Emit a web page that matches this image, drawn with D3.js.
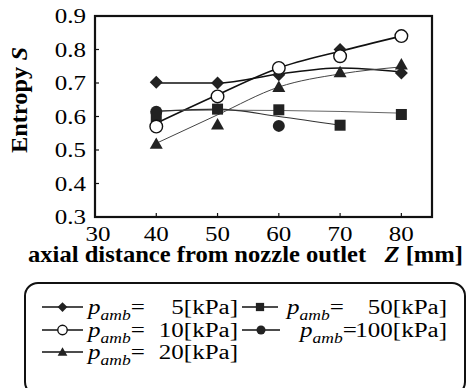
<!DOCTYPE html>
<html>
<head>
<meta charset="utf-8">
<script src="https://cdn.jsdelivr.net/npm/d3@7"></script>
</head>
<body style="margin:0">
<div id="chart"></div>
<script>
// Z positions [mm]
const zAll = [40, 50, 60, 70, 80];

// measured entropy (markers)
const s5 = [0.702, 0.700, 0.725, 0.800, 0.730];
const s10 = [0.570, 0.660, 0.745, 0.780, 0.840];
const s20 = [0.518, 0.576, 0.688, 0.732, 0.755];
const s50 = [0.600, 0.622, 0.620, 0.574, 0.606];
const z100 = [40, 60];
const s100 = [0.614, 0.572];

// fitted curves as drawn in the figure
const fit5 = [0.700, 0.700, 0.727, 0.745, 0.733];
const fit10 = [0.580, 0.665, 0.745, 0.795, 0.840];
const fit20 = [0.520, 0.605, 0.688, 0.727, 0.748];
const fit50 = [0.617, 0.619, 0.618, 0.615, 0.610];
const zFit100 = [40, 50, 60, 70];
const fit100 = [0.615, 0.622, 0.600, 0.574];

const yTicks = [0.3, 0.4, 0.5, 0.6, 0.7, 0.8, 0.9];
const xTicks = [30, 40, 50, 60, 70, 80];

const W = 474, H = 388;
const plot = { left: 95, right: 432, top: 16, bottom: 217 };
const FONT = '"Liberation Serif", monospace';
const STRETCH = 1.25; // the scanned figure is a bit wider than tall

const svg = d3.select('#chart').append('svg')
    .attr('width', W)
    .attr('height', H);

const x = d3.scaleLinear().domain([30, 85]).range([plot.left, plot.right]);
const y = d3.scaleLinear().domain([0.3, 0.9]).range([plot.bottom, plot.top]);

const series = [
    { key: '5', z: zAll, s: s5, fz: zAll, f: fit5, shape: 'diamond', lw: 1.6, lc: '#111' },
    { key: '10', z: zAll, s: s10, fz: zAll, f: fit10, shape: 'open', lw: 1.6, lc: '#111' },
    { key: '20', z: zAll, s: s20, fz: zAll, f: fit20, shape: 'triangle', lw: 1.0, lc: '#444' },
    { key: '50', z: zAll, s: s50, fz: zAll, f: fit50, shape: 'square', lw: 1.0, lc: '#666' },
    { key: '100', z: z100, s: s100, fz: zFit100, f: fit100, shape: 'circle', lw: 1.1, lc: '#333' }
];

function label(px, py, size, weight) {
    return svg.append('text')
        .attr('x', px).attr('y', py)
        .attr('font-family', FONT)
        .attr('font-weight', weight || 'normal')
        .attr('font-style', 'normal')
        .attr('font-size', size);
}

// widen a text horizontally, keeping its anchor
function widen(t) {
    const w = t.node().getComputedTextLength();
    t.attr('textLength', w * STRETCH).attr('lengthAdjust', 'spacingAndGlyphs');
    return t;
}

// inward ticks from the scales
svg.append('g').selectAll('line')
    .data(xTicks.slice(1))
    .enter().append('line')
    .attr('x1', d => x(d)).attr('x2', d => x(d))
    .attr('y1', plot.bottom).attr('y2', plot.bottom - 4)
    .attr('stroke', '#111').attr('stroke-width', 1.2);

svg.append('g').selectAll('line')
    .data(yTicks.slice(1, -1))
    .enter().append('line')
    .attr('x1', plot.left).attr('x2', plot.left + 4)
    .attr('y1', d => y(d)).attr('y2', d => y(d))
    .attr('stroke', '#111').attr('stroke-width', 1.2);

// tick labels
yTicks.forEach(d => {
    widen(label(86, y(d) + 7, 20)
        .attr('text-anchor', 'end')
        .text(d.toFixed(1)));
});

xTicks.forEach(d => {
    widen(label(x(d) + (d === 30 ? 3 : 0), 241, 20)
        .attr('text-anchor', 'middle')
        .text(d));
});

// fitted lines
const line = d3.line()
    .x(d => x(d[0]))
    .y(d => y(d[1]))
    .curve(d3.curveMonotoneX);

series.forEach(sr => {
    svg.append('path')
        .datum(sr.fz.map((z, i) => [z, sr.f[i]]))
        .attr('d', line)
        .attr('fill', 'none')
        .attr('stroke', sr.lc)
        .attr('stroke-width', sr.lw);
});

function drawMarker(g, shape, cx, cy, scale) {
    const k = scale || 1;
    if (shape === 'diamond') {
        const r = 6.5 * k;
        g.append('path')
            .attr('d', `M${cx},${cy - r}L${cx + r},${cy}L${cx},${cy + r}L${cx - r},${cy}Z`)
            .attr('fill', '#222');
    } else if (shape === 'open') {
        g.append('circle').attr('cx', cx).attr('cy', cy).attr('r', 6.3 * k)
            .attr('fill', '#fff').attr('stroke', '#111').attr('stroke-width', 1.4);
    } else if (shape === 'triangle') {
        const r = 6.5 * k;
        g.append('path')
            .attr('d', `M${cx},${cy - r}L${cx + r},${cy + r * 0.75}L${cx - r},${cy + r * 0.75}Z`)
            .attr('fill', '#222');
    } else if (shape === 'square') {
        const r = 5.5 * k;
        g.append('rect').attr('x', cx - r).attr('y', cy - r)
            .attr('width', 2 * r).attr('height', 2 * r).attr('fill', '#222');
    } else {
        g.append('circle').attr('cx', cx).attr('cy', cy).attr('r', 6 * k).attr('fill', '#222');
    }
}

// markers: filled ones first, open circles on top
const markerLayer = svg.append('g');
['100', '50', '20', '5', '10'].forEach(key => {
    const sr = series.find(s => s.key === key);
    sr.z.forEach((z, i) => drawMarker(markerLayer, sr.shape, x(z), y(sr.s[i])));
});

// frame
svg.append('rect')
    .attr('x', plot.left).attr('y', plot.top)
    .attr('width', plot.right - plot.left)
    .attr('height', plot.bottom - plot.top)
    .attr('fill', 'none')
    .attr('stroke', '#111')
    .attr('stroke-width', 2.2);

// axis titles
const yTitle = svg.append('text')
    .attr('transform', 'translate(27,100) rotate(-90)')
    .attr('text-anchor', 'middle')
    .attr('font-family', FONT)
    .attr('font-weight', 'bold')
    .attr('font-size', 23)
    .attr('textLength', 106)
    .attr('lengthAdjust', 'spacingAndGlyphs');
yTitle.append('tspan').text('Entropy ');
yTitle.append('tspan').attr('font-style', 'italic').text('S');

const xTitle = label(28, 262, 23, 'bold')
    .attr('textLength', 435)
    .attr('lengthAdjust', 'spacingAndGlyphs');
xTitle.append('tspan').text('axial distance from nozzle outlet\u00a0\u00a0 ');
xTitle.append('tspan').attr('font-style', 'italic').text('Z');
xTitle.append('tspan').text(' [mm]');

// legend
svg.append('rect')
    .attr('x', 25).attr('y', 283)
    .attr('width', 440).attr('height', 112)
    .attr('rx', 13)
    .attr('fill', 'none')
    .attr('stroke', '#111')
    .attr('stroke-width', 2);

const legendItems = [
    { key: '5', x0: 42, x1: 83, tx: 88, vx: 238, yb: 314 },
    { key: '10', x0: 42, x1: 83, tx: 88, vx: 238, yb: 337 },
    { key: '20', x0: 42, x1: 83, tx: 88, vx: 238, yb: 359 },
    { key: '50', x0: 242, x1: 278, tx: 287, vx: 447, yb: 314 },
    { key: '100', x0: 242, x1: 280, tx: 300, vx: 447, yb: 337 }
];

legendItems.forEach(it => {
    const sr = series.find(s => s.key === it.key);
    const ym = it.yb - 7;
    svg.append('line')
        .attr('x1', it.x0).attr('x2', it.x1)
        .attr('y1', ym).attr('y2', ym)
        .attr('stroke', '#111').attr('stroke-width', 1.3);
    drawMarker(svg, sr.shape, (it.x0 + it.x1) / 2, ym, 0.75);

    const t = label(it.tx, it.yb, 20);
    t.append('tspan').attr('font-style', 'italic').text('p');
    t.append('tspan').attr('font-style', 'italic').attr('font-size', 14)
        .attr('dy', 6).text('amb');
    t.append('tspan').attr('dy', -6).text('=');
    widen(t);

    widen(label(it.vx, it.yb, 20)
        .attr('text-anchor', 'end')
        .text(`${it.key}[kPa]`));
});
</script>
</body>
</html>
